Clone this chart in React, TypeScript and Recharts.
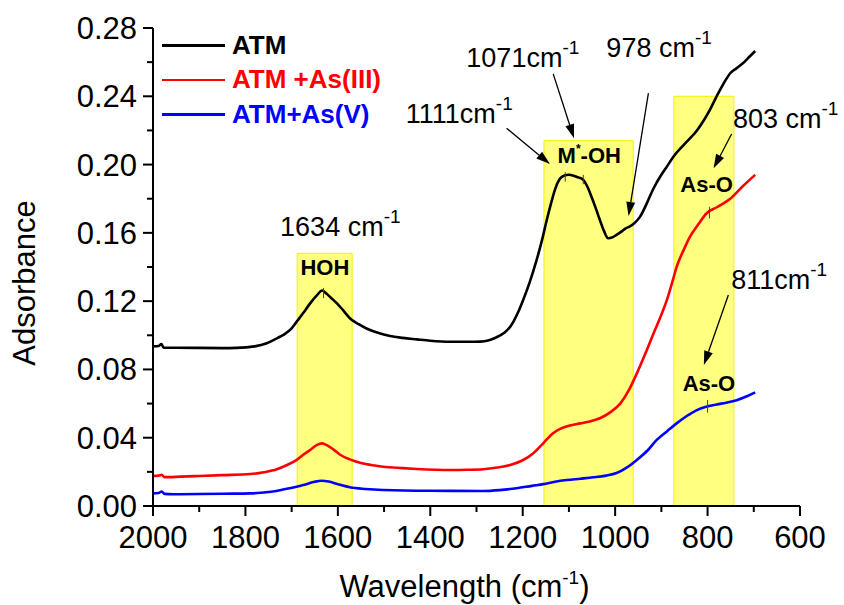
import React from "react";
import {
  Label,
  Legend,
  Line,
  LineChart,
  ReferenceArea,
  ReferenceDot,
  ReferenceLine,
  XAxis,
  YAxis,
} from "recharts";

const FONT = "'Liberation Sans', Arial, Helvetica, sans-serif";

// axis ticks
const xMajorTicks = [2000, 1800, 1600, 1400, 1200, 1000, 800, 600];
const xMinorTicks = [1900, 1700, 1500, 1300, 1100, 900, 700];
const yMajorTicks = [0, 0.04, 0.08, 0.12, 0.16, 0.2, 0.24, 0.28];
const yMinorTicks = [0.02, 0.06, 0.1, 0.14, 0.18, 0.22, 0.26];

// spectra: [wavenumber, absorbance]
const atm: [number, number][] = [
  [2000, 0.0935], [1988, 0.0937], [1982, 0.0948], [1977, 0.0928], [1950, 0.0927],
  [1900, 0.0926], [1850, 0.0925], [1820, 0.0926], [1780, 0.0935], [1754, 0.0953],
  [1730, 0.0985], [1718, 0.1002], [1700, 0.104], [1689, 0.108], [1675, 0.113],
  [1660, 0.1187], [1645, 0.1235], [1634, 0.1262], [1625, 0.1245], [1615, 0.122],
  [1602, 0.1187], [1588, 0.1145], [1574, 0.11], [1555, 0.1065], [1538, 0.104],
  [1510, 0.1012], [1487, 0.0996], [1460, 0.0985], [1429, 0.0976], [1400, 0.0968],
  [1357, 0.0962], [1320, 0.0962], [1292, 0.0963], [1275, 0.0969], [1260, 0.0984],
  [1240, 0.1015], [1227, 0.105], [1210, 0.1135], [1199, 0.1207], [1185, 0.131],
  [1170, 0.144], [1158, 0.156], [1148, 0.1675], [1138, 0.178], [1130, 0.1855],
  [1120, 0.1915], [1111, 0.1935], [1100, 0.194], [1090, 0.1935], [1080, 0.1925],
  [1071, 0.1915], [1060, 0.187], [1051, 0.181], [1042, 0.1745], [1033, 0.1675],
  [1024, 0.161], [1015, 0.1568], [1005, 0.1575], [997, 0.1588], [985, 0.161],
  [978, 0.1625], [968, 0.1638], [957, 0.166], [946, 0.1695], [932, 0.177],
  [917, 0.186], [900, 0.194], [890, 0.198], [874, 0.2046], [850, 0.212],
  [823, 0.22], [808, 0.226], [795, 0.232], [785, 0.2375], [773, 0.2437],
  [762, 0.249], [751, 0.2535], [737, 0.2565], [723, 0.2595], [710, 0.263],
  [697, 0.2665],
];

const atmAs3: [number, number][] = [
  [2000, 0.0176], [1988, 0.0178], [1981, 0.0183], [1975, 0.0169], [1940, 0.0172],
  [1900, 0.0176], [1850, 0.0181], [1790, 0.0187], [1760, 0.0198], [1732, 0.0215],
  [1710, 0.024], [1689, 0.027], [1675, 0.03], [1660, 0.0328], [1645, 0.0358],
  [1635, 0.0367], [1625, 0.0358], [1610, 0.0332], [1595, 0.03], [1574, 0.0273],
  [1550, 0.0252], [1520, 0.0237], [1502, 0.023], [1460, 0.0222], [1429, 0.0217],
  [1357, 0.0211], [1320, 0.0212], [1285, 0.0215], [1255, 0.0225], [1227, 0.024],
  [1200, 0.0268], [1177, 0.0309], [1160, 0.0355], [1148, 0.039], [1135, 0.0425],
  [1119, 0.0452], [1100, 0.047], [1076, 0.0484], [1055, 0.0495], [1033, 0.0514],
  [1010, 0.055], [989, 0.06], [970, 0.068], [953, 0.0777], [935, 0.089],
  [917, 0.101], [900, 0.112], [888, 0.1207], [875, 0.1325], [867, 0.14],
  [850, 0.151], [838, 0.1578], [820, 0.165], [802, 0.1715], [780, 0.175],
  [751, 0.18], [725, 0.187], [697, 0.194],
];

const atmAs5: [number, number][] = [
  [2000, 0.0074], [1988, 0.0076], [1981, 0.0085], [1975, 0.0071], [1956, 0.0069],
  [1900, 0.007], [1850, 0.0072], [1790, 0.0074], [1740, 0.0085], [1704, 0.0104],
  [1670, 0.0126], [1650, 0.0142], [1635, 0.0148], [1620, 0.0143], [1600, 0.0128],
  [1574, 0.011], [1540, 0.01], [1502, 0.0094], [1400, 0.0089], [1285, 0.0088],
  [1250, 0.0093], [1213, 0.0104], [1180, 0.0118], [1155, 0.0128], [1130, 0.0142],
  [1105, 0.0152], [1075, 0.016], [1047, 0.0168], [1020, 0.0178], [997, 0.0193],
  [975, 0.0225], [953, 0.027], [930, 0.0325], [910, 0.0387], [888, 0.0437],
  [867, 0.0484], [845, 0.0527], [823, 0.0562], [805, 0.058], [780, 0.0595],
  [760, 0.0605], [737, 0.062], [715, 0.0643], [697, 0.0666],
];

const series = [
  { name: "ATM", color: "#000000", points: atm },
  { name: "ATM +As(III)", color: "#ff0000", points: atmAs3 },
  { name: "ATM+As(V)", color: "#0000ff", points: atmAs5 },
];

// highlighted bands: [from, to, top]
const bands: [number, number, number][] = [
  [1688, 1569, 0.148],
  [1154, 961, 0.214],
  [873, 743, 0.24],
];

// peak annotations: [text, wavenumber, absorbance]
const peakLabels: [string, number, number][] = [
  ["1634 cm", 1725, 0.1582],
  ["1111cm", 1453, 0.2242],
  ["1071cm", 1322, 0.2574],
  ["978 cm", 1019, 0.2628],
  ["803 cm", 745, 0.2213],
  ["811cm", 749, 0.127],
];

const bandLabels: [string, number, number][] = [
  ["HOH", 1628, 0.1353],
  ["M*-OH", 1056, 0.2011],
  ["As-O", 802, 0.1841],
  ["As-O", 797, 0.0674],
];

// arrows: [fromWn, fromA, toWn, toA]
const arrows: [number, number, number, number][] = [
  [1235, 0.2213, 1141, 0.2003],
  [1134, 0.2531, 1089, 0.2154],
  [928, 0.2418, 971, 0.1699],
  [748, 0.2179, 787, 0.1978],
  [755, 0.1236, 808, 0.0826],
];

// little marks on the curves: [wn, low, high]
const peakMarks: [number, number, number][] = [
  [1631, 0.1218, 0.1277],
  [1108, 0.19, 0.1955],
  [1069, 0.1885, 0.194],
  [796, 0.1685, 0.1753],
  [800, 0.0547, 0.0621],
];

const toRows = (pts: [number, number][]) => pts.map(([wn, a]) => ({ wn, a }));
const isIn = (list: number[], v: number) => list.some((t) => Math.abs(t - v) < 1e-9);

function XTick(props: any) {
  const { x, y, payload } = props;
  const major = isIn(xMajorTicks, payload.value);
  return (
    <g>
      <line x1={x} x2={x} y1={y} y2={y + (major ? 10 : 6)} stroke="#000" strokeWidth={2} />
      {major && (
        <text x={x} y={y + 42} textAnchor="middle" fontSize={31} fontFamily={FONT} fill="#000">
          {payload.value}
        </text>
      )}
    </g>
  );
}

function YTick(props: any) {
  const { x, y, payload } = props;
  const major = isIn(yMajorTicks, payload.value);
  return (
    <g>
      <line x1={x - (major ? 10 : 6)} x2={x} y1={y} y2={y} stroke="#000" strokeWidth={2} />
      {major && (
        <text x={x - 16} y={y} dy="0.355em" textAnchor="end" fontSize={31} fontFamily={FONT} fill="#000">
          {payload.value.toFixed(2)}
        </text>
      )}
    </g>
  );
}

function Arrow(props: any) {
  const { x1, y1, x2, y2 } = props;
  const ang = Math.atan2(y2 - y1, x2 - x1);
  const L = 14;
  const W = 4.5;
  const bx = x2 - L * Math.cos(ang);
  const by = y2 - L * Math.sin(ang);
  const px = W * Math.sin(ang);
  const py = W * Math.cos(ang);
  return (
    <g>
      <line x1={x1} y1={y1} x2={bx} y2={by} stroke="#000" strokeWidth={1.3} />
      <polygon points={`${x2},${y2} ${bx + px},${by - py} ${bx - px},${by + py}`} fill="#000" />
    </g>
  );
}

function LegendBox() {
  return (
    <div style={{ fontFamily: FONT }}>
      {series.map((s) => (
        <div key={s.name} style={{ display: "flex", alignItems: "center", height: 34.5 }}>
          <div style={{ width: 63, height: 2.5, background: s.color }} />
          <span style={{ marginLeft: 7, color: s.color, fontWeight: "bold", fontSize: 26 }}>{s.name}</span>
        </div>
      ))}
    </div>
  );
}

export default function App() {
  return (
    <div style={{ position: "absolute", left: 0, top: 0, background: "#fff" }}>
      <LineChart width={844} height={605} margin={{ top: 28, right: 44, bottom: 0, left: 0 }}>
        <XAxis
          type="number"
          dataKey="wn"
          domain={[600, 2000]}
          reversed
          ticks={[...xMajorTicks, ...xMinorTicks].sort((a, b) => b - a)}
          interval={0}
          tickSize={0}
          tickMargin={0}
          tick={<XTick />}
          axisLine={{ stroke: "#000", strokeWidth: 2 }}
          tickLine={false}
          height={99}
        >
          <Label
            content={(p: any) => {
              const vb = p.viewBox;
              return (
                <text x={vb.x + vb.width / 2 - 12} y={vb.y + 91} textAnchor="middle" fontSize={31} fontFamily={FONT} fill="#000">
                  Wavelength (cm
                  <tspan dy={-13} fontSize={19}>-1</tspan>
                  <tspan dy={13}>)</tspan>
                </text>
              );
            }}
          />
        </XAxis>
        <YAxis
          type="number"
          domain={[0, 0.28]}
          ticks={[...yMajorTicks, ...yMinorTicks].sort((a, b) => a - b)}
          interval={0}
          tickSize={0}
          tickMargin={0}
          tick={<YTick />}
          axisLine={{ stroke: "#000", strokeWidth: 2 }}
          tickLine={false}
          width={153}
        >
          <Label
            content={(p: any) => {
              const vb = p.viewBox;
              const cy = vb.y + vb.height / 2 + 16;
              return (
                <text x={35} y={cy} transform={`rotate(-90 35 ${cy})`} textAnchor="middle" fontSize={31} fontFamily={FONT} fill="#000">
                  Adsorbance
                </text>
              );
            }}
          />
        </YAxis>

        {bands.map(([x1, x2, top], i) => (
          <ReferenceArea key={`b${i}`} x1={x1} x2={x2} y1={0} y2={top} fill="#ffff80" fillOpacity={1} stroke="#f2f200" strokeWidth={1} />
        ))}

        {series.map((s) => (
          <Line
            key={s.name}
            name={s.name}
            data={toRows(s.points)}
            dataKey="a"
            type="monotone"
            stroke={s.color}
            strokeWidth={2.6}
            strokeLinejoin="round"
            dot={false}
            activeDot={false}
            isAnimationActive={false}
          />
        ))}

        {peakMarks.map(([wn, lo, hi], i) => (
          <ReferenceLine key={`m${i}`} segment={[{ x: wn, y: lo }, { x: wn, y: hi }]} stroke="#444" strokeWidth={1} />
        ))}

        {arrows.map(([fx, fy, tx, ty], i) => (
          <ReferenceLine key={`a${i}`} segment={[{ x: fx, y: fy }, { x: tx, y: ty }]} shape={(p: any) => <Arrow {...p} />} />
        ))}

        {peakLabels.map(([text, wn, a], i) => (
          <ReferenceDot
            key={`p${i}`}
            x={wn}
            y={a}
            r={0}
            shape={(p: any) => (
              <text x={p.cx} y={p.cy} fontSize={27} fontFamily={FONT} fill="#000">
                {text}
                <tspan dy={-13} fontSize={19}>-1</tspan>
              </text>
            )}
          />
        ))}

        {bandLabels.map(([text, wn, a], i) => (
          <ReferenceDot
            key={`l${i}`}
            x={wn}
            y={a}
            r={0}
            shape={(p: any) =>
              text.includes("*") ? (
                <text x={p.cx} y={p.cy} textAnchor="middle" fontSize={22} fontWeight="bold" fontFamily={FONT} fill="#000">
                  {text.split("*")[0]}
                  <tspan dy={-10} fontSize={12}>*</tspan>
                  <tspan dy={10} fontSize={22}>{text.split("*")[1]}</tspan>
                </text>
              ) : (
                <text x={p.cx} y={p.cy} textAnchor="middle" fontSize={22} fontWeight="bold" fontFamily={FONT} fill="#000">
                  {text}
                </text>
              )
            }
          />
        ))}

        <Legend
          layout="vertical"
          align="center"
          verticalAlign="middle"
          wrapperStyle={{ top: 28, left: 162, width: "auto" }}
          content={<LegendBox />}
        />
      </LineChart>
    </div>
  );
}
